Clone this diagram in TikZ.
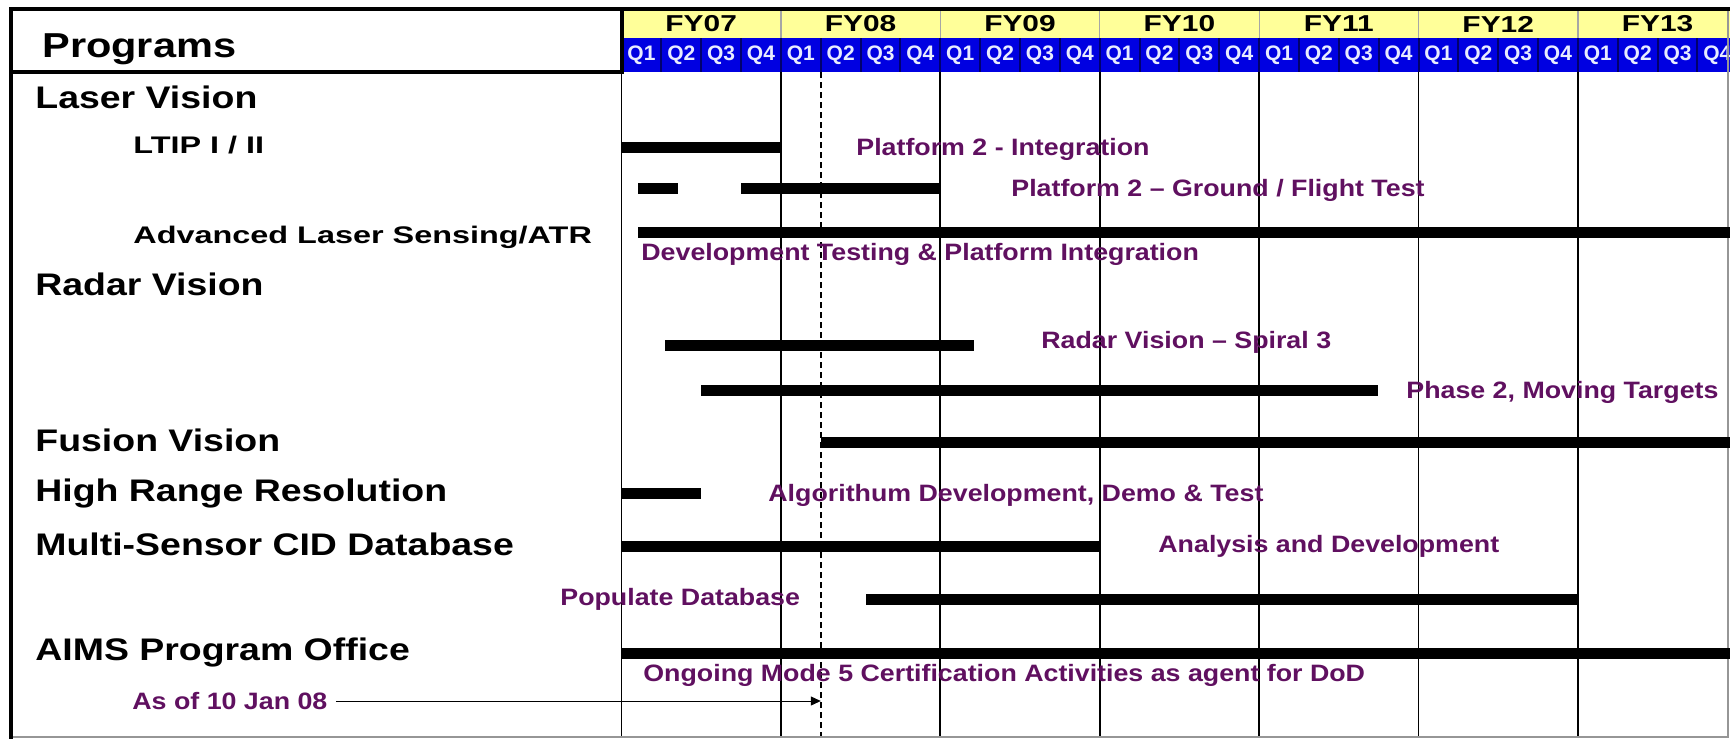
\documentclass[tikz,border=0pt]{standalone}
\usepackage{fontspec}
\setmainfont{Liberation Sans}
% widened faces for the schedule texts
\newfontfamily\headfont[FakeStretch=1.2]{Liberation Sans}
\newfontfamily\subfont[FakeStretch=1.35]{Liberation Sans}
\newfontfamily\labfont[FakeStretch=1.13]{Liberation Sans}
\newfontfamily\fyfont[FakeStretch=1.3]{Liberation Sans}
\usetikzlibrary{arrows.meta}

\definecolor{fyyellow}{RGB}{255,255,153}
\definecolor{qblue}{RGB}{0,0,225}
\definecolor{qsep}{RGB}{0,0,110}
\definecolor{qtext}{RGB}{232,236,255}
\definecolor{plum}{RGB}{96,16,96}
\definecolor{framegray}{RGB}{150,150,150}

\begin{document}
\begin{tikzpicture}[x=0.5pt,y=-0.5pt,
  heading/.style={anchor=base west, inner sep=0pt,
    font=\headfont\bfseries\fontsize{15.6pt}{18pt}\selectfont},
  subitem/.style={anchor=base west, inner sep=0pt,
    font=\subfont\bfseries\fontsize{12pt}{14pt}\selectfont},
  activity/.style={anchor=base west, inner sep=0pt, text=plum,
    font=\labfont\bfseries\fontsize{11.85pt}{14pt}\selectfont},
  fylabel/.style={inner sep=0pt, font=\fyfont\bfseries\fontsize{11.5pt}{13pt}\selectfont},
  qlabel/.style={inner sep=0pt, text=qtext,
    font=\bfseries\fontsize{10.5pt}{12pt}\selectfont},
  bar/.style={line width=5.5pt},
  gridline/.style={line width=0.85pt},
  todayline/.style={line width=0.75pt, dash pattern=on 3pt off 2pt},
  border/.style={line width=2pt},
]
\useasboundingbox (0,0) rectangle (1730,739);
\clip (0,0) rectangle (1730,739);
\fill[white] (0,0) rectangle (1730,739);

% ---- timeline header: fiscal years and quarters
\fill[fyyellow] (621.5,10) rectangle (1730,38);
\fill[qblue] (621.5,38) rectangle (1730,72);
\foreach \k in {0,...,28}
  \draw[qsep, line width=1pt] ({621.5+39.85*\k},38) -- ({621.5+39.85*\k},72);
\foreach \i in {1,...,6}
  \draw[gray!70, line width=0.6pt] ({621.5+159.4*\i},10) -- ({621.5+159.4*\i},38);
\foreach \i/\yr in {0/07,1/08,2/09,3/10,4/11,5/12,6/13} {
  \node[fylabel] (fy\yr) at ({621.5+159.4*\i+79.7},24) {FY\yr};
  \foreach \q in {1,...,4}
    \node[qlabel] (q\yr\q) at ({621.5+159.4*\i+39.85*(\q-0.5)},55) {Q\q};
}

% ---- year grid and the status date
\foreach \i in {0,...,6}
  \draw[gridline] ({621.5+159.4*\i},72) -- ({621.5+159.4*\i},737);
\draw[todayline] (820.8,72) -- (820.8,737);
\coordinate (today) at (820.8,701);

% ---- frame and the Programs header cell
\draw[framegray, line width=0.6pt] (11,737) -- (1728,737) -- (1728,9);
\draw[border] (1730,9) -- (11,9) -- (11,739);
\draw[border] (11,72) -- (621.5,72) -- (621.5,9);
\node[anchor=base west, inner sep=0pt,
  font=\headfont\bfseries\fontsize{17.3pt}{20pt}\selectfont] (programs) at (42,57) {Programs};

% ---- program names
\node[heading] (laser)  at (35,108) {Laser Vision};
\node[subitem] (ltip)   at (133,153) {LTIP I / II};
\node[subitem] (adv)    at (133,243) {Advanced Laser Sensing/ATR};
\node[heading] (radar)  at (35,295) {Radar Vision};
\node[heading] (fusion) at (35,451) {Fusion Vision};
\node[heading] (hrr)    at (35,501) {High Range Resolution};
\node[heading] (cid)    at (35,555) {Multi-Sensor CID Database};
\node[heading] (aims)   at (35,660) {AIMS Program Office};

% ---- schedule bars
\draw[bar] (621.5,147) -- (780.9,147);
\draw[bar] (638,188) -- (678,188);
\draw[bar] (741,188) -- (939.7,188);
\draw[bar] (638,232) -- (1730,232);
\draw[bar] (665,345) -- (974,345);
\draw[bar] (701.2,390) -- (1377.5,390);
\draw[bar] (820.8,442) -- (1730,442);
\draw[bar] (621.5,493) -- (701.2,493);
\draw[bar] (621.5,546) -- (1098.6,546);
\draw[bar] (866,599) -- (1578,599);
\draw[bar] (621.5,653) -- (1730,653);

% ---- activity labels
\node[activity] (int)    at (856,155)  {Platform 2 - Integration};
\node[activity] (flight) at (1011,196) {Platform 2 – Ground / Flight Test};
\node[activity] (devt)   at (641,260)  {Development Testing \& Platform Integration};
\node[activity] (spiral) at (1041,348) {Radar Vision – Spiral 3};
\node[activity] (moving) at (1406,398) {Phase 2, Moving Targets};
\node[activity] (algo)   at (768,501)  {Algorithum Development, Demo \& Test};
\node[activity] (anal)   at (1158,552) {Analysis and Development};
\node[activity] (popdb)  at (560,605)  {Populate Database};
\node[activity] (mode5)  at (643,681)  {Ongoing Mode 5 Certification Activities as agent for DoD};
\node[activity] (asof)   at (132,709)  {As of 10 Jan 08};

\draw[line width=0.5pt, -{Triangle[length=5pt,width=4.5pt]}]
  ([xshift=4pt]asof.east |- today) -- (today);
\end{tikzpicture}
\end{document}
